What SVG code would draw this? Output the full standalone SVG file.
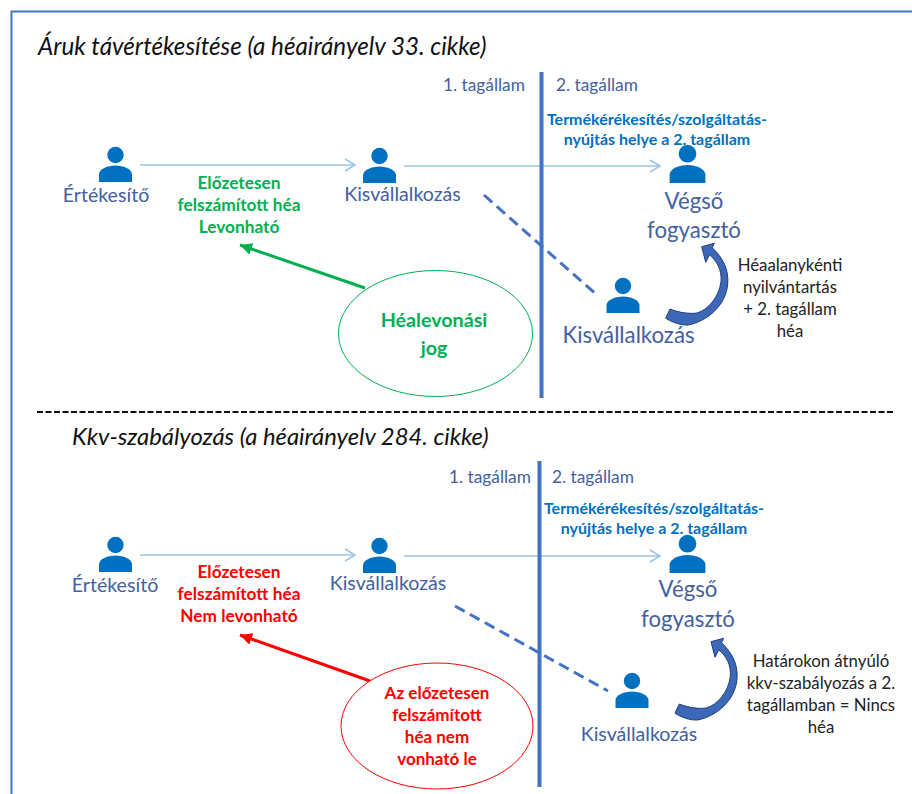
<svg xmlns="http://www.w3.org/2000/svg" width="912" height="794" viewBox="0 0 912 794">
<style>
text{font-family:"Lato","Carlito","Open Sans",sans-serif}
.t{font-size:24px;font-style:italic;fill:#111}
.st{font-size:17.300px;fill:#44609f}
.lb{font-size:19.600px;fill:#44609f}
.big{font-size:22.200px;fill:#44609f}
.pl{font-size:16px;font-weight:700;fill:#0070c0;text-anchor:middle}
.gr{font-size:17.300px;font-weight:700;fill:#00b050;text-anchor:middle}
.rd{font-size:17.300px;font-weight:700;fill:#f00;text-anchor:middle}
.nt{font-size:16.800px;fill:#222;text-anchor:middle}
.thin{stroke:#9dc3e6;stroke-width:1.500;fill:none}
.dash{stroke:#4472c4;stroke-width:3;stroke-dasharray:11 6;fill:none}
.v{stroke:#4472c4;stroke-width:4;fill:none}
</style>
<defs>
<symbol id="p" viewBox="0 0 34 36" overflow="visible"><circle cx="17" cy="8" r="8.200" fill="#0070c0"/><path d="M0.500 35V27C1 22 9 18.500 17 18.500S33 22 33.500 27V35Z" fill="#0070c0"/></symbol>
<marker id="ot" markerUnits="userSpaceOnUse" markerWidth="14" markerHeight="14" refX="10" refY="6" orient="auto" overflow="visible"><path d="M0 0L10 6L0 12" fill="none" stroke="#9dc3e6" stroke-width="1.500"/></marker>
<marker id="gh" markerUnits="userSpaceOnUse" markerWidth="14" markerHeight="14" refX="12" refY="6" orient="auto"><path d="M0 0L12 6L0 12Z" fill="#00b050"/></marker>
<marker id="rh" markerUnits="userSpaceOnUse" markerWidth="14" markerHeight="14" refX="12" refY="6" orient="auto"><path d="M0 0L12 6L0 12Z" fill="#f00"/></marker>
<path id="ca" d="M701.700 246.700L714.300 243.300L712.300 247.700C723 258 729 270 727.700 284C726 305 708 321 688.300 325C680 325.500 672 322 665.700 318.300L670 309C680 313 690 314 697 313C708 310 719 297 721 281.700C722 270 717 261 709.500 254.800L705.700 262.300Z" fill="#3d68b8" stroke="#1f3d78" stroke-width="1"/>
</defs>
<rect width="912" height="794" fill="#fff"/>
<path d="M11.500 794V11.500H912" fill="none" stroke="#4472c4" stroke-width="2"/>

<g id="connectors">
<path class="thin" d="M140 165H355" marker-end="url(#ot)"/>
<path class="thin" d="M404 166H660" marker-end="url(#ot)"/>
<path class="thin" d="M140 555H355" marker-end="url(#ot)"/>
<path class="thin" d="M404 556H660" marker-end="url(#ot)"/>
<path class="v" d="M541.500 72V398"/>
<path class="v" d="M539.500 461V787"/>
<path class="dash" d="M484 195L598 296"/>
<path class="dash" d="M455 606L608 691"/>
<path d="M365 288L240 245" stroke="#00b050" stroke-width="3" fill="none" marker-end="url(#gh)"/>
<path d="M370 681L240 635" stroke="#f00" stroke-width="3" fill="none" marker-end="url(#rh)"/>
<use href="#ca"/>
<use href="#ca" x="9.300" y="395"/>
<path d="M37 412H895" stroke="#111" stroke-width="2" stroke-dasharray="6 2.500"/>
</g>

<g id="title-1"><text class="t" x="38" y="55" style="font-size:24.200px">Áruk távértékesítése (a héairányelv 33. cikke)</text></g>
<g id="title-2"><text class="t" x="72" y="445" style="font-size:23.800px">Kkv-szabályozás (a héairányelv 284. cikke)</text></g>
<g id="ms1a"><text class="st" x="443" y="91">1. tagállam</text></g>
<g id="ms2a"><text class="st" x="556" y="91">2. tagállam</text></g>
<g id="ms1b"><text class="st" x="449" y="483">1. tagállam</text></g>
<g id="ms2b"><text class="st" x="552" y="483">2. tagállam</text></g>
<g id="place-a"><text class="pl" x="657" y="125">Termékérékesítés/szolgáltatás-</text><text class="pl" x="657" y="145">nyújtás helye a 2. tagállam</text></g>
<g id="place-b"><text class="pl" x="654" y="514">Termékérékesítés/szolgáltatás-</text><text class="pl" x="654" y="534">nyújtás helye a 2. tagállam</text></g>

<g id="seller-a"><use href="#p" x="98.500" y="147" width="34" height="36"/><text class="lb" x="106" y="202" text-anchor="middle">Értékesítő</text></g>
<g id="sme-a"><use href="#p" x="362.500" y="148" width="34" height="36"/><text class="lb" x="402.500" y="201" text-anchor="middle">Kisvállalkozás</text></g>
<g id="consumer-a"><use href="#p" x="669" y="145" width="37" height="39"/><text class="big" x="694" y="209" text-anchor="middle">Végső</text><text class="big" x="694" y="238" text-anchor="middle">fogyasztó</text></g>
<g id="sme-a2"><use href="#p" x="606" y="278" width="34" height="36"/><text class="big" x="628.500" y="343" text-anchor="middle">Kisvállalkozás</text></g>

<g id="seller-b"><use href="#p" x="98.500" y="537" width="34" height="36"/><text class="lb" x="115" y="592" text-anchor="middle">Értékesítő</text></g>
<g id="sme-b"><use href="#p" x="362.500" y="538" width="34" height="36"/><text class="lb" x="388" y="590" text-anchor="middle">Kisvállalkozás</text></g>
<g id="consumer-b"><use href="#p" x="669" y="535" width="37" height="39"/><text class="big" x="688" y="597" text-anchor="middle">Végső</text><text class="big" x="688" y="627" text-anchor="middle">fogyasztó</text></g>
<g id="sme-b2"><use href="#p" x="615" y="673" width="34" height="36"/><text class="lb" x="639" y="741" text-anchor="middle">Kisvállalkozás</text></g>

<g id="note-green"><text class="gr" x="239" y="189">Előzetesen</text><text class="gr" x="239" y="211">felszámított héa</text><text class="gr" x="239" y="233">Levonható</text></g>
<g id="note-red"><text class="rd" x="239" y="578">Előzetesen</text><text class="rd" x="239" y="600">felszámított héa</text><text class="rd" x="239" y="622">Nem levonható</text></g>

<g id="right-green"><ellipse cx="435.500" cy="333.500" rx="97" ry="63" fill="#fff" stroke="#00b050" stroke-width="1"/><text class="gr" x="434" y="327" style="font-size:19.700px">Héalevonási</text><text class="gr" x="434" y="355" style="font-size:19.700px">jog</text></g>
<g id="right-red"><ellipse cx="437" cy="726" rx="96" ry="63" fill="#fff" stroke="#f00" stroke-width="1"/><text class="rd" x="437" y="699" style="font-size:17px">Az előzetesen</text><text class="rd" x="437" y="721" style="font-size:17px">felszámított</text><text class="rd" x="437" y="743" style="font-size:17px">héa nem</text><text class="rd" x="437" y="765" style="font-size:17px">vonható le</text></g>

<g id="note-a"><text class="nt" x="790" y="271">Héaalanykénti</text><text class="nt" x="790" y="293">nyilvántartás</text><text class="nt" x="790" y="315">+ 2. tagállam</text><text class="nt" x="790" y="337">héa</text></g>
<g id="note-b"><text class="nt" x="821" y="667">Határokon átnyúló</text><text class="nt" x="821" y="689">kkv-szabályozás a 2.</text><text class="nt" x="821" y="711">tagállamban = Nincs</text><text class="nt" x="821" y="733">héa</text></g>
</svg>
